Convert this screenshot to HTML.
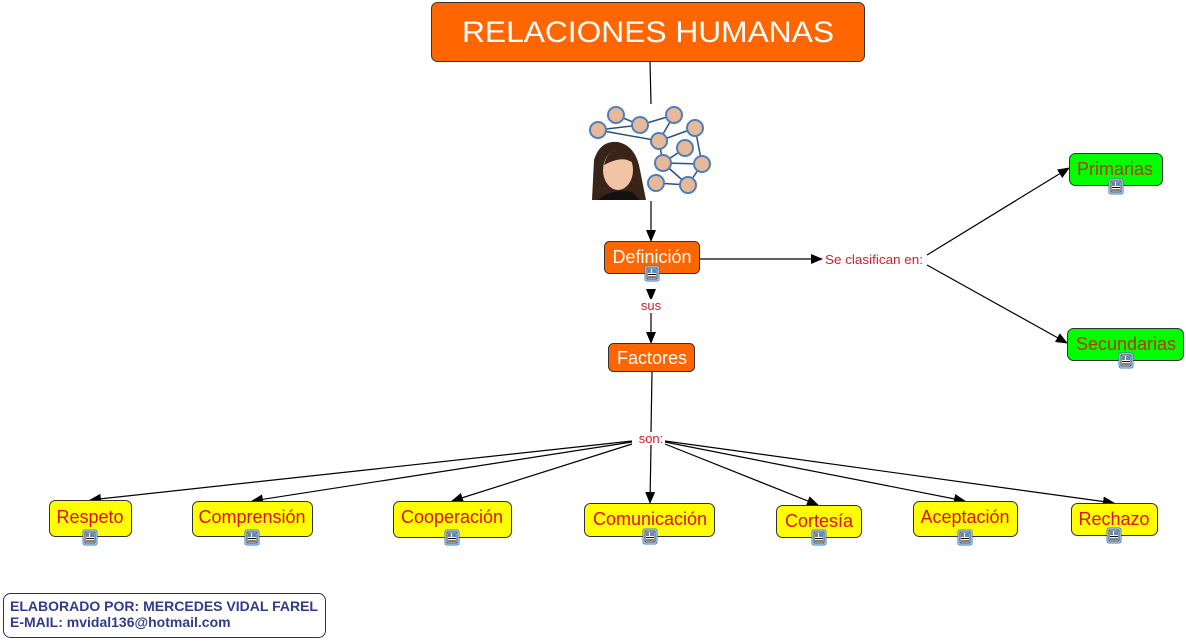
<!DOCTYPE html>
<html><head><meta charset="utf-8"><style>
html,body{margin:0;padding:0;background:#fff;}
svg{display:block;font-family:"Liberation Sans",Arial,sans-serif;}
</style></head><body>
<svg width="1186" height="641" viewBox="0 0 1186 641" xmlns="http://www.w3.org/2000/svg">
<defs>
<marker id="a" markerWidth="12" markerHeight="10" refX="11" refY="5" orient="auto" markerUnits="userSpaceOnUse">
<path d="M0,0 L12,5 L0,10 z" fill="#000"/></marker>
<g id="ic">
<rect x="-7" y="0" width="14" height="15" rx="2" fill="#dfefff" stroke="#3a78c9" stroke-width="1"/>
<rect x="-5" y="2" width="10" height="11" fill="#fff" stroke="#000" stroke-width="0.8"/>
<rect x="0" y="3" width="4" height="4" fill="#4a90d0"/>
<line x1="-4" y1="4" x2="-1" y2="4" stroke="#000"/><line x1="-4" y1="6" x2="-1" y2="6" stroke="#000"/>
<line x1="-4" y1="8.5" x2="4" y2="8.5" stroke="#000"/><line x1="-4" y1="11" x2="4" y2="11" stroke="#000"/>
</g>
</defs>

<g stroke="#000" stroke-width="1.2" fill="none">
<line x1="650" y1="61" x2="651" y2="104"/>
<line x1="651" y1="201" x2="651" y2="241" marker-end="url(#a)"/>
<line x1="651" y1="290" x2="651" y2="300" marker-end="url(#a)"/>
<line x1="651" y1="313" x2="651" y2="343" marker-end="url(#a)"/>
<line x1="700" y1="259" x2="822" y2="259" marker-end="url(#a)"/>
<line x1="927" y1="255" x2="1069" y2="168" marker-end="url(#a)"/>
<line x1="927" y1="265" x2="1067" y2="343" marker-end="url(#a)"/>
<line x1="652" y1="372" x2="651" y2="432"/>
<line x1="632" y1="441" x2="90" y2="500" marker-end="url(#a)"/>
<line x1="632" y1="442" x2="252" y2="501" marker-end="url(#a)"/>
<line x1="632" y1="444" x2="452" y2="501" marker-end="url(#a)"/>
<line x1="651" y1="445" x2="650" y2="503" marker-end="url(#a)"/>
<line x1="665" y1="444" x2="818" y2="505" marker-end="url(#a)"/>
<line x1="665" y1="442" x2="965" y2="501" marker-end="url(#a)"/>
<line x1="665" y1="441" x2="1114" y2="503" marker-end="url(#a)"/>
</g>

<rect x="431.5" y="2.5" width="433" height="59" rx="6" fill="#ff6600" stroke="#333"/>
<text x="648" y="42" font-size="30" fill="#fff" text-anchor="middle" textLength="372" lengthAdjust="spacingAndGlyphs">RELACIONES HUMANAS</text>

<g>
<g stroke="#2d4f80" stroke-width="1.5">
<line x1="598" y1="130" x2="659" y2="141"/><line x1="598" y1="130" x2="640" y2="125"/>
<line x1="616" y1="115" x2="640" y2="125"/><line x1="640" y1="125" x2="674" y2="115"/>
<line x1="674" y1="115" x2="659" y2="141"/><line x1="695" y1="128" x2="702" y2="164"/>
<line x1="659" y1="141" x2="663" y2="163"/><line x1="685" y1="148" x2="663" y2="163"/>
<line x1="663" y1="163" x2="702" y2="164"/><line x1="663" y1="163" x2="688" y2="185"/>
<line x1="656" y1="183" x2="688" y2="185"/><line x1="702" y1="164" x2="688" y2="185"/>
<line x1="659" y1="141" x2="695" y2="128"/>
</g>
<g fill="#e6b99a" stroke="#4f7fb8" stroke-width="2">
<circle cx="616" cy="115" r="8"/><circle cx="640" cy="125" r="8"/><circle cx="674" cy="115" r="8"/>
<circle cx="695" cy="128" r="8"/><circle cx="598" cy="130" r="8"/><circle cx="659" cy="141" r="8"/>
<circle cx="685" cy="148" r="8"/><circle cx="663" cy="163" r="8"/><circle cx="702" cy="164" r="8"/>
<circle cx="656" cy="183" r="8"/><circle cx="688" cy="185" r="8"/>
</g>
<path d="M592,200 L594,160 Q600,140 618,142 Q636,146 640,170 L646,200 Z" fill="#3a2318"/>
<ellipse cx="618" cy="170" rx="15" ry="20" fill="#f0c4a4"/>
<path d="M604,165 Q608,148 622,150 Q632,152 634,164 Q624,154 604,165Z" fill="#3a2318"/>
<path d="M598,200 Q612,188 632,192 L640,200 Z" fill="#111"/>
</g>

<rect x="604.5" y="241.5" width="95" height="32" rx="5" fill="#ff6600" stroke="#333"/>
<text x="652" y="263" font-size="18" fill="#fff" text-anchor="middle">Definición</text>
<use href="#ic" x="652" y="266"/>
<rect x="638" y="299" width="26" height="13" fill="#fff"/>
<text x="651" y="310" font-size="13" fill="#d0202a" text-anchor="middle">sus</text>

<rect x="608.5" y="343.5" width="86" height="28" rx="5" fill="#ff6600" stroke="#333"/>
<text x="652" y="364" font-size="18" fill="#fff" text-anchor="middle">Factores</text>

<text x="651" y="443" font-size="13" fill="#d0202a" text-anchor="middle">son:</text>
<text x="825" y="264" font-size="13" fill="#d0202a" textLength="98" lengthAdjust="spacingAndGlyphs">Se clasifican en:</text>

<rect x="1069.5" y="153.5" width="93" height="32" rx="6" fill="#00ff00" stroke="#333"/>
<text x="1115" y="175" font-size="18" fill="#b03a00" text-anchor="middle">Primarias</text>
<use href="#ic" x="1116" y="179"/>
<rect x="1067.5" y="328.5" width="116" height="32" rx="6" fill="#00ff00" stroke="#333"/>
<text x="1126" y="350" font-size="18" fill="#b03a00" text-anchor="middle">Secundarias</text>
<use href="#ic" x="1126" y="353"/>

<g stroke="#333">
<rect x="49.5" y="500.5" width="82" height="36" rx="6" fill="#ffff00"/>
<rect x="192.5" y="501.5" width="120" height="35" rx="6" fill="#ffff00"/>
<rect x="393.5" y="501.5" width="118" height="36" rx="6" fill="#ffff00"/>
<rect x="584.5" y="503.5" width="130" height="33" rx="6" fill="#ffff00"/>
<rect x="776.5" y="505.5" width="85" height="32" rx="6" fill="#ffff00"/>
<rect x="913.5" y="501.5" width="104" height="35" rx="6" fill="#ffff00"/>
<rect x="1071.5" y="503.5" width="86" height="32" rx="6" fill="#ffff00"/>
</g>
<g font-size="18" fill="#e01010" text-anchor="middle">
<text x="90" y="523">Respeto</text>
<text x="252" y="523">Comprensión</text>
<text x="452" y="523">Cooperación</text>
<text x="650" y="525">Comunicación</text>
<text x="819" y="527">Cortesía</text>
<text x="965" y="523">Aceptación</text>
<text x="1114" y="525">Rechazo</text>
</g>
<use href="#ic" x="90" y="530"/>
<use href="#ic" x="252" y="530"/>
<use href="#ic" x="452" y="530"/>
<use href="#ic" x="650" y="529"/>
<use href="#ic" x="819" y="530"/>
<use href="#ic" x="965" y="530"/>
<use href="#ic" x="1114" y="528"/>

<rect x="3.5" y="593.5" width="322" height="44" rx="7" fill="#fff" stroke="#333"/>
<text x="10" y="611" font-size="14" font-weight="bold" fill="#333a8c" textLength="308" lengthAdjust="spacingAndGlyphs">ELABORADO POR: MERCEDES VIDAL FAREL</text>
<text x="10" y="627" font-size="14" font-weight="bold" fill="#333a8c">E-MAIL: mvidal136@hotmail.com</text>
</svg>
</body></html>
